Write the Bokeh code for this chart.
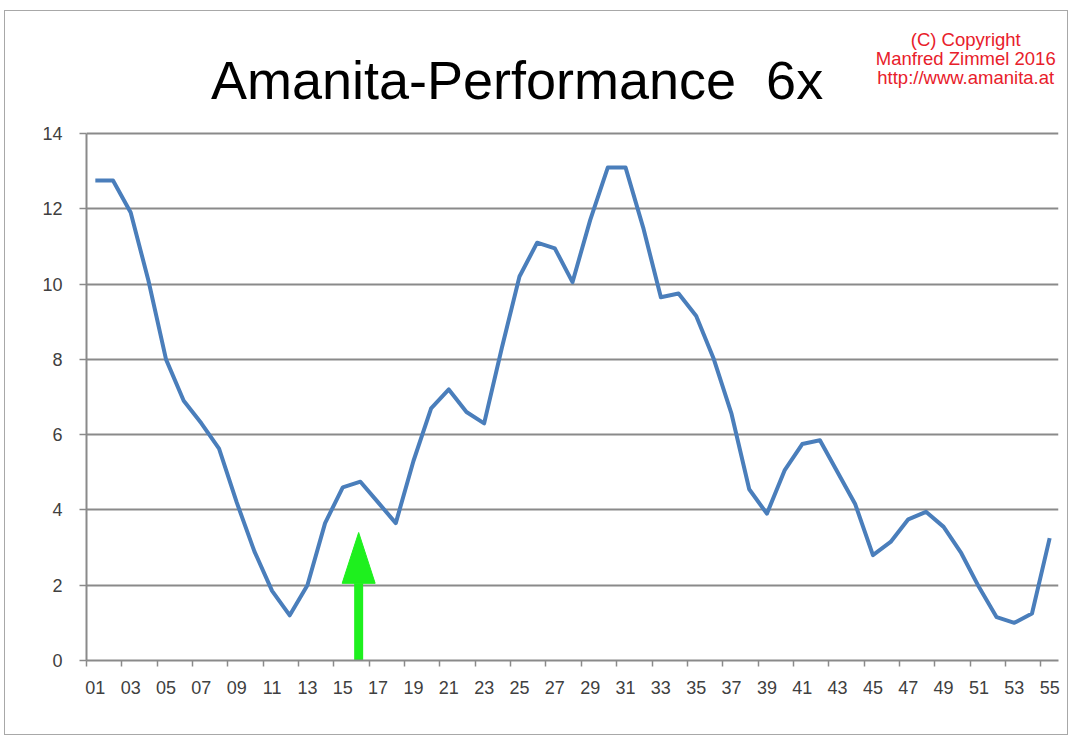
from bokeh.plotting import figure
from bokeh.models import Range1d, FixedTicker, Label
from bokeh.embed import file_html
from bokeh.resources import INLINE

# ---- data ----
weeks = list(range(1, 56))
performance = [12.75, 12.75, 11.9, 10.1, 8.0, 6.9, 6.3, 5.63, 4.2, 2.9,
               1.85, 1.2, 2.0, 3.65, 4.6, 4.75, 4.2, 3.65, 5.3, 6.7,
               7.2, 6.6, 6.3, 8.3, 10.2, 11.1, 10.95, 10.05, 11.7, 13.1,
               13.1, 11.5, 9.65, 9.75, 9.15, 8.0, 6.55, 4.55, 3.9, 5.05,
               5.75, 5.85, 5.0, 4.15, 2.8, 3.15, 3.75, 3.95, 3.55, 2.85,
               1.95, 1.15, 1.0, 1.25, 3.25]
x_tick_values = [1, 3, 5, 7, 9, 11, 13, 15, 17, 19, 21, 23, 25, 27,
                 29, 31, 33, 35, 37, 39, 41, 43, 45, 47, 49, 51, 53, 55]
x_tick_labels = ["01", "03", "05", "07", "09", "11", "13", "15", "17", "19",
                 "21", "23", "25", "27", "29", "31", "33", "35", "37", "39",
                 "41", "43", "45", "47", "49", "51", "53", "55"]
y_ticks = [0, 2, 4, 6, 8, 10, 12, 14]

title_text = "Amanita-Performance\u00a0\u00a06x"
copyright_lines = ["(C) Copyright", "Manfred Zimmel 2016", "http://www.amanita.at"]

# green arrow marker (week, shaft end, tip)
arrow_week = 15.9
arrow_head_base = 2.05
arrow_tip = 3.4

FONT = "Liberation Sans"
GRID = "#8a8a8a"
LABEL = "#404040"

W, H = 1064, 725
FRAME_BOTTOM = 649          # canvas px of value 0
PX_PER_UNIT = 527.0 / 14.0  # canvas px per value unit
y_top = FRAME_BOTTOM / PX_PER_UNIT

p = figure(width=W, height=H, output_backend="svg", toolbar_location=None,
           x_range=Range1d(0.5, 55.5), y_range=Range1d(0, y_top),
           min_border_left=81, min_border_right=11,
           min_border_top=0, min_border_bottom=H - FRAME_BOTTOM,
           styles={"margin-left": "4px", "margin-top": "10px",
                   "border": "1px solid #a8a8a8"})
p.outline_line_color = None
p.background_fill_color = "white"
p.border_fill_color = "white"

# x axis: labels at odd weeks, tick marks between categories
minor = [v - 0.5 for v in x_tick_values]
p.xaxis.ticker = FixedTicker(ticks=x_tick_values, minor_ticks=minor)
p.xaxis.major_label_overrides = {v: s for v, s in zip(x_tick_values, x_tick_labels)}
p.xaxis.major_tick_line_color = None
p.xaxis.major_tick_out = 0
p.xaxis.major_tick_in = 0
p.xaxis.minor_tick_line_color = GRID
p.xaxis.minor_tick_line_width = 1.5
p.xaxis.minor_tick_out = 6
p.xaxis.minor_tick_in = 0
p.xaxis.axis_line_color = GRID
p.xaxis.axis_line_width = 2
p.xaxis.major_label_standoff = 14
p.xaxis.major_label_text_font = FONT
p.xaxis.major_label_text_font_size = "18px"
p.xaxis.major_label_text_color = LABEL
p.xgrid.visible = False

p.yaxis.ticker = FixedTicker(ticks=y_ticks, minor_ticks=[])
p.yaxis.bounds = (0, 14)
p.yaxis.major_tick_line_color = GRID
p.yaxis.major_tick_line_width = 1.5
p.yaxis.major_tick_out = 7
p.yaxis.major_tick_in = 0
p.yaxis.axis_line_color = GRID
p.yaxis.axis_line_width = 2
p.yaxis.major_label_standoff = 17
p.yaxis.major_label_text_font = FONT
p.yaxis.major_label_text_font_size = "18px"
p.yaxis.major_label_text_color = LABEL
p.ygrid.ticker = FixedTicker(ticks=y_ticks)
p.ygrid.grid_line_color = GRID
p.ygrid.grid_line_width = 2

# green arrow
x_per_px = 55.0 / 972.0
half_head = 16.5 * x_per_px
p.segment(x0=[arrow_week], y0=[0], x1=[arrow_week], y1=[arrow_head_base],
          line_color="#1ef01e", line_width=9, line_cap="butt")
p.patch(x=[arrow_week - half_head, arrow_week + half_head, arrow_week],
        y=[arrow_head_base, arrow_head_base, arrow_tip],
        fill_color="#1ef01e", line_color="#1ef01e", line_width=1)

# performance line
p.line(weeks, performance, line_color="#4a7ebb", line_width=4, line_join="round")

# title and copyright in the header area of the frame
p.add_layout(Label(x=24.86, y=15.43, text=title_text,
                   text_align="center", text_baseline="alphabetic",
                   text_font=FONT, text_font_size="54px", text_color="black"))
for txt, yy in zip(copyright_lines, [16.51, 16.0, 15.5]):
    p.add_layout(Label(x=50.25, y=yy, text=txt,
                       text_align="center", text_baseline="alphabetic",
                       text_font=FONT, text_font_size="18.5px", text_color="#e8202a"))

open("out.html", "w").write(file_html(p, INLINE))
